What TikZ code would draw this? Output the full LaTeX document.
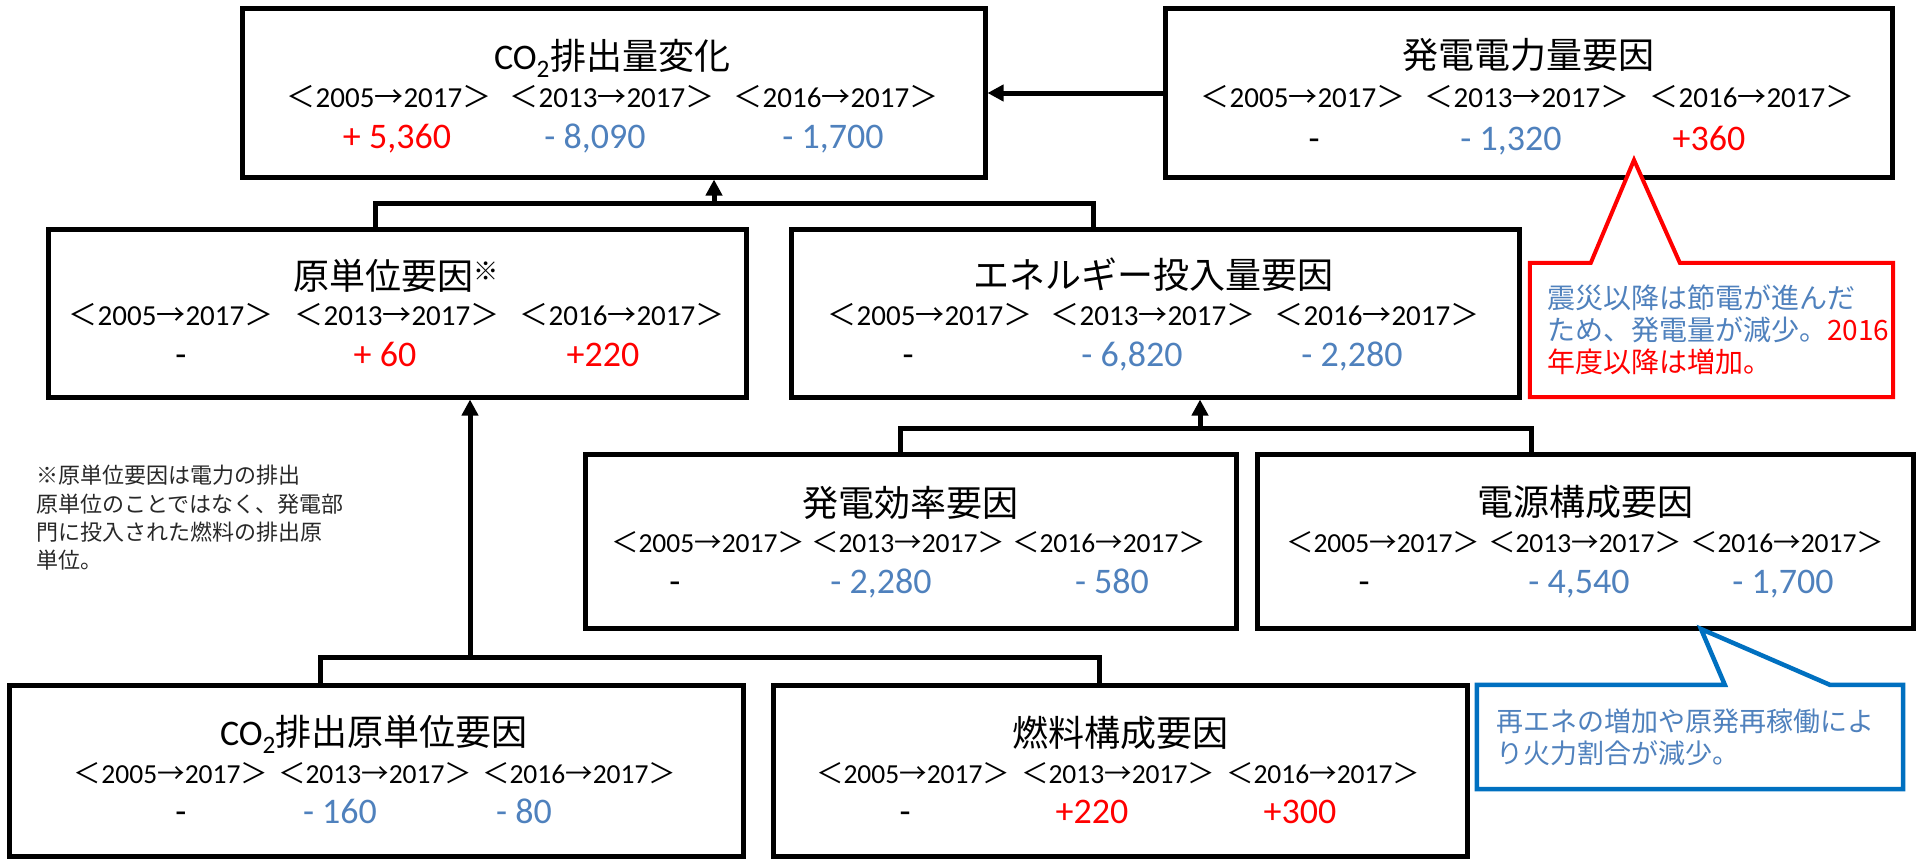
\documentclass[tikz,border=0pt]{standalone}
\usepackage{fontspec}
\setmainfont{Carlito}
\newfontfamily\jp{Noto Sans CJK JP}
\usetikzlibrary{arrows.meta}
\definecolor{vblue}{RGB}{79,129,189}
\definecolor{vred}{RGB}{255,0,0}
\definecolor{cblue}{RGB}{0,112,192}
\definecolor{notegray}{RGB}{40,40,40}
\newcommand{\prd}[1]{{\jp ＜}#1{\jp →}2017{\jp ＞}}
\begin{document}
\begin{tikzpicture}[x=1pt,y=-1pt,
  box/.style={draw=black,line width=5pt,fill=white,rectangle,inner sep=0pt,line join=miter},
  ttl/.style={font=\fontsize{36}{40}\selectfont,inner sep=0pt},
  yr/.style={font=\fontsize{29}{32}\selectfont,inner sep=0pt},
  yrs/.style={font=\fontsize{27.5}{30}\selectfont,inner sep=0pt},
  val/.style={font=\fontsize{36}{40}\selectfont,inner sep=0pt,text height=23pt,text depth=0pt},
  vb/.style={val,text=vblue},
  vr/.style={val,text=vred},
  conn/.style={draw=black,line width=5pt,line join=miter},
  arr/.style={conn,-{Triangle[length=16pt,width=16pt]}},
  callred/.style={draw=vred,line width=4pt,line join=miter,fill=white},
  callblue/.style={draw=cblue,line width=4.5pt,line join=miter,fill=white},
  ctext/.style={align=left,inner sep=0pt,anchor=north west},
]
\useasboundingbox (0,0) rectangle (1921,859);

% ---------- boxes ----------
\node[box,minimum width=743pt,minimum height=168pt] (A) at (613.5,93) {};
\node[box,minimum width=727pt,minimum height=168pt] (B) at (1528.5,93) {};
\node[box,minimum width=698pt,minimum height=168pt] (C) at (397,313) {};
\node[box,minimum width=728pt,minimum height=168pt] (D) at (1155,313) {};
\node[box,minimum width=651pt,minimum height=174pt] (E) at (910.5,541) {};
\node[box,minimum width=656pt,minimum height=174pt] (F) at (1585,541) {};
\node[box,minimum width=734pt,minimum height=171pt] (G) at (376,770.5) {};
\node[box,minimum width=694pt,minimum height=171pt] (H) at (1120,770.5) {};

% ---------- box A ----------
\node[ttl] (A-t) at (612,58) {CO\textsubscript{2}\jp 排出量変化};
\node[yr] (A-y1) at (389,97) {\prd{2005}};
\node[yr] (A-y2) at (612,97) {\prd{2013}};
\node[yr] (A-y3) at (836,97) {\prd{2016}};
\node[vr] (A-v1) at (397,137) {+ 5,360};
\node[vb] (A-v2) at (595,137) {- 8,090};
\node[vb] (A-v3) at (833,137) {- 1,700};

% ---------- box B ----------
\node[ttl] (B-t) at (1528,55) {\jp 発電電力量要因};
\node[yr] (B-y1) at (1303,97) {\prd{2005}};
\node[yr] (B-y2) at (1527,97) {\prd{2013}};
\node[yr] (B-y3) at (1752,97) {\prd{2016}};
\node[val] (B-v1) at (1314,139) {-};
\node[vb] (B-v2) at (1511,139) {- 1,320};
\node[vr] (B-v3) at (1709,139) {+360};

% ---------- box C ----------
\node[ttl] (C-t) at (396,276) {\jp 原単位要因\textsuperscript{※}};
\node[yr] (C-y1) at (171,315) {\prd{2005}};
\node[yr] (C-y2) at (397,315) {\prd{2013}};
\node[yr] (C-y3) at (622,315) {\prd{2016}};
\node[val] (C-v1) at (181,355) {-};
\node[vr] (C-v2) at (385,355) {+ 60};
\node[vr] (C-v3) at (603,355) {+220};

% ---------- box D ----------
\node[ttl] (D-t) at (1153,275) {\jp エネルギー投入量要因};
\node[yr] (D-y1) at (930,315) {\prd{2005}};
\node[yr] (D-y2) at (1153,315) {\prd{2013}};
\node[yr] (D-y3) at (1377,315) {\prd{2016}};
\node[val] (D-v1) at (908,355) {-};
\node[vb] (D-v2) at (1132,355) {- 6,820};
\node[vb] (D-v3) at (1352,355) {- 2,280};

% ---------- box E ----------
\node[ttl] (E-t) at (910,503) {\jp 発電効率要因};
\node[yrs] (E-y1) at (708,542) {\prd{2005}};
\node[yrs] (E-y2) at (908,542) {\prd{2013}};
\node[yrs] (E-y3) at (1109,542) {\prd{2016}};
\node[val] (E-v1) at (675,582) {-};
\node[vb] (E-v2) at (881,582) {- 2,280};
\node[vb] (E-v3) at (1112,582) {- 580};

% ---------- box F ----------
\node[ttl] (F-t) at (1585,502) {\jp 電源構成要因};
\node[yrs] (F-y1) at (1383,542) {\prd{2005}};
\node[yrs] (F-y2) at (1585,542) {\prd{2013}};
\node[yrs] (F-y3) at (1787,542) {\prd{2016}};
\node[val] (F-v1) at (1364,582) {-};
\node[vb] (F-v2) at (1579,582) {- 4,540};
\node[vb] (F-v3) at (1783,582) {- 1,700};

% ---------- box G ----------
\node[ttl] (G-t) at (374,734) {CO\textsubscript{2}\jp 排出原単位要因};
\node[yrs] (G-y1) at (171,773) {\prd{2005}};
\node[yrs] (G-y2) at (375,773) {\prd{2013}};
\node[yrs] (G-y3) at (579,773) {\prd{2016}};
\node[val] (G-v1) at (181,812) {-};
\node[vb] (G-v2) at (340,812) {- 160};
\node[vb] (G-v3) at (524,812) {- 80};

% ---------- box H ----------
\node[ttl] (H-t) at (1120,733) {\jp 燃料構成要因};
\node[yrs] (H-y1) at (913,773) {\prd{2005}};
\node[yrs] (H-y2) at (1118,773) {\prd{2013}};
\node[yrs] (H-y3) at (1323,773) {\prd{2016}};
\node[val] (H-v1) at (905,812) {-};
\node[vr] (H-v2) at (1092,812) {+220};
\node[vr] (H-v3) at (1300,812) {+300};

% ---------- connectors ----------
\draw[arr] (B.west) -- (A.east);

\coordinate (bC) at (375,203);
\coordinate (bD) at (1093,203);
\coordinate (j1) at (714,203);
\draw[conn] (C.north -| bC) -- (bC) -- (bD) -- (D.north -| bD);
\draw[arr] (j1) -- (A.south -| j1);

\coordinate (bE) at (900,428);
\coordinate (bF) at (1531,428);
\coordinate (j2) at (1200,428);
\draw[conn] (E.north -| bE) -- (bE) -- (bF) -- (F.north -| bF);
\draw[arr] (j2) -- (D.south -| j2);

\coordinate (bG) at (320,657);
\coordinate (bH) at (1099,657);
\coordinate (j3) at (470,657);
\draw[conn] (G.north -| bG) -- (bG) -- (bH) -- (H.north -| bH);
\draw[arr] (j3) -- (C.south -| j3);

% ---------- note ----------
\node[ctext,font=\fontsize{22}{28.3}\selectfont\jp,text=notegray] (note) at (36,465)
  {※原単位要因は電力の排出\\原単位のことではなく、発電部\\門に投入された燃料の排出原\\単位。};

% ---------- red callout ----------
\node[inner sep=0pt,minimum width=363pt,minimum height=134pt] (R) at (1711.5,330) {};
\coordinate (Rtip) at (1634,160);
\draw[callred] (R.north west) -- ([xshift=61pt]R.north west) -- (Rtip)
  -- ([xshift=150pt]R.north west) -- (R.north east) -- (R.south east)
  -- (R.south west) -- cycle;
\node[ctext,font=\fontsize{28}{32}\selectfont\jp] (R-t) at (1547,285)
  {\color{vblue}震災以降は節電が進んだ\\\color{vblue}ため、発電量が減少。\color{vred}2016\\\color{vred}年度以降は増加。};

% ---------- blue callout ----------
\node[inner sep=0pt,minimum width=426pt,minimum height=104pt] (Q) at (1690,737) {};
\coordinate (Qtip) at (1701,629);
\draw[callblue] (Q.north west) -- ([xshift=248pt]Q.north west) -- (Qtip)
  -- ([xshift=353pt]Q.north west) -- (Q.north east) -- (Q.south east)
  -- (Q.south west) -- cycle;
\node[ctext,font=\fontsize{27}{32}\selectfont\jp,text=vblue] (Q-t) at (1496,709)
  {再エネの増加や原発再稼働によ\\り火力割合が減少。};
\end{tikzpicture}
\end{document}
